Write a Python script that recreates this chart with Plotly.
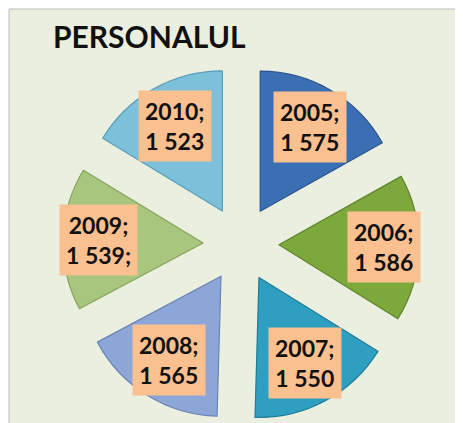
"""Exploded pie: PERSONALUL by year."""

import math

import plotly.graph_objects as go

years = ["2005", "2006", "2007", "2008", "2009", "2010"]
staff = [1575, 1586, 1550, 1565, 1539, 1523]
staff_labels = ["1 575", "1 586", "1 550", "1 565", "1 539;", "1 523"]
slice_colors = ["#3A6FB4", "#7DA83C", "#2E9FC0", "#8CA6D8", "#A9C67F", "#7CC0DA"]
edge_colors = ["#2A558E", "#5F8529", "#1F7C97", "#6A84B6", "#86A35C", "#5A9FBA"]

W, H = 463, 423
PULL = 0.271
DOMAIN_X = [0.1188, 0.8877]
DOMAIN_Y = [0.0213, 0.8629]

fig = go.Figure(
    go.Pie(
        labels=years,
        values=staff,
        sort=False,
        direction="clockwise",
        rotation=0,
        pull=[PULL] * len(staff),
        marker={"colors": slice_colors, "line": {"color": edge_colors, "width": 1.2}},
        textinfo="none",
        hoverinfo="label+value",
        showlegend=False,
        domain={"x": DOMAIN_X, "y": DOMAIN_Y},
    )
)

# label boxes placed along each slice bisector, derived from the values
dom_w = (DOMAIN_X[1] - DOMAIN_X[0]) * W
dom_h = (DOMAIN_Y[1] - DOMAIN_Y[0]) * H
radius = min(dom_w, dom_h) / 2 / (1 + PULL)
cx = (DOMAIN_X[0] + DOMAIN_X[1]) / 2 * W
cy = (DOMAIN_Y[0] + DOMAIN_Y[1]) / 2 * H
total = sum(staff)
cum = 0.0
for year, val, lab in zip(years, staff, staff_labels):
    mid = (cum + val / 2) / total * 2 * math.pi
    cum += val
    # side labels sit a bit further out, like the original
    dist = radius * (PULL + 0.68 + 0.07 * math.sin(mid) ** 2)
    fig.add_annotation(
        x=(cx + dist * math.sin(mid)) / W,
        y=(cy + dist * math.cos(mid)) / H,
        xref="paper",
        yref="paper",
        xanchor="center",
        yanchor="middle",
        text=f"<b>{year};<br>{lab}</b>",
        showarrow=False,
        align="center",
        bgcolor="#FAC08F",
        borderpad=6,
        font={"family": "Lato, Arial, sans-serif", "size": 23, "color": "#111111"},
    )

fig.add_shape(
    type="rect",
    xref="paper",
    yref="paper",
    x0=1 / W,
    x1=1.01,
    y0=-0.01,
    y1=1 - 1 / H,
    fillcolor="#EBEFDF",
    line={"color": "#BDBDBD", "width": 1},
    layer="below",
)

fig.update_layout(
    width=W,
    height=H,
    margin={"l": 0, "r": 0, "t": 0, "b": 0},
    paper_bgcolor="white",
    title={
        "text": "<b>PERSONALUL</b>",
        "x": 45 / W,
        "xanchor": "left",
        "y": 1 - 29 / H,
        "yanchor": "middle",
        "font": {"family": "Lato, Arial, sans-serif", "size": 30, "color": "#111111"},
    },
)

fig.write_html("out.html")
